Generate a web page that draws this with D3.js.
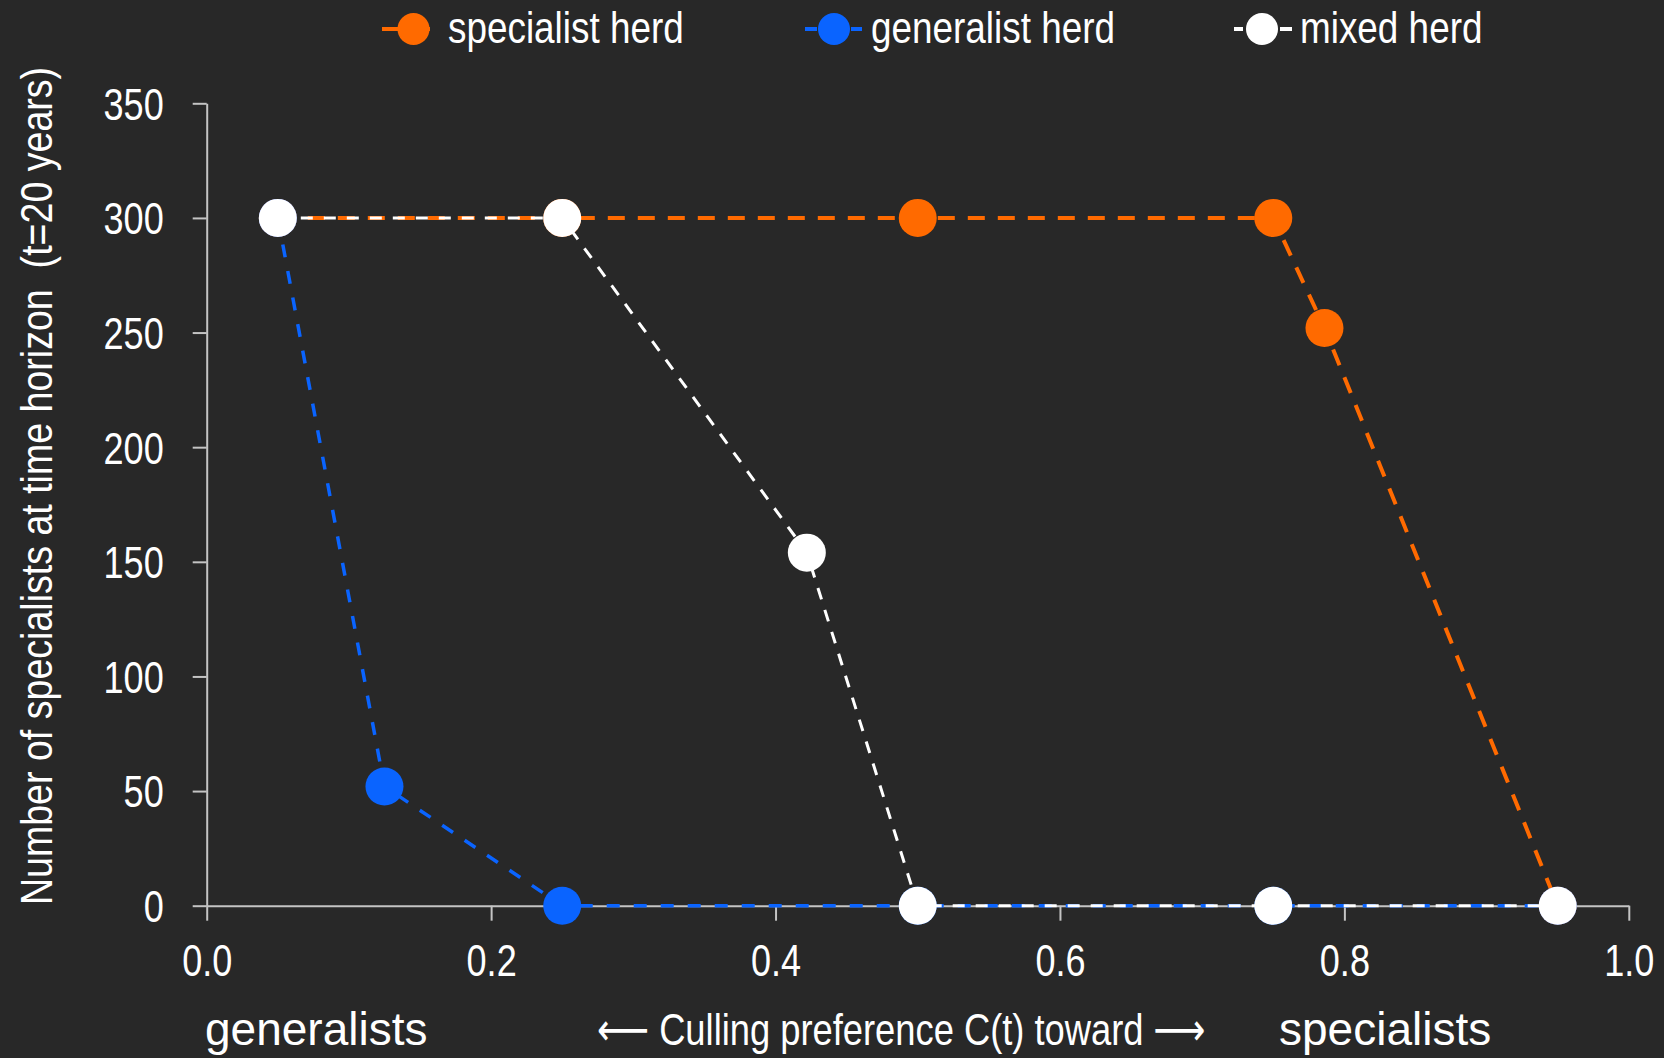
<!DOCTYPE html>
<html>
<head>
<meta charset="utf-8">
<script src="https://cdn.jsdelivr.net/npm/d3@7"></script>
<style>
  html, body { margin: 0; padding: 0; background: #282828; }
  svg { display: block; }
  text { font-family: "Liberation Sans", "DejaVu Sans", Arial, sans-serif; }
</style>
</head>
<body>
<svg id="chart" width="1664" height="1058"></svg>
<script>
// ---------------- data ----------------
const seriesNames = ["specialist herd", "generalist herd", "mixed herd"];
const specialistX = [0.05, 0.25, 0.5, 0.75, 0.786, 0.95];
const specialistY = [300, 300, 300, 300, 252, 0];
const generalistX = [0.05, 0.125, 0.25, 0.5, 0.75, 0.95];
const generalistY = [300, 52, 0, 0, 0, 0];
const mixedX = [0.05, 0.25, 0.422, 0.5, 0.75, 0.95];
const mixedY = [300, 300, 154, 0, 0, 0];
const xTicks = [0, 0.2, 0.4, 0.6, 0.8, 1.0];
const yTicks = [0, 50, 100, 150, 200, 250, 300, 350];
const yTitle = "Number of specialists at time horizon\u00a0\u00a0(t=20 years)";
const xLeftLabel = "generalists";
const xRightLabel = "specialists";
const xMidLabel = "\u27F5 Culling preference C(t) toward \u27F6";

// ---------------- layout / styles ----------------
const W = 1664, H = 1058;
const bg = "#282828";
const axisColor = "#c4c4c4";
const NARROW = 0.82; // horizontal condensing of the narrow text
const styles = [
  { color: "#ff6a00", width: 4, dash: "17,13", r: 19 },
  { color: "#0a64ff", width: 3.5, dash: "13,14", r: 19 },
  { color: "#ffffff", width: 3, dash: "12,11", r: 19 }
];

const svg = d3.select("#chart");
svg.append("rect").attr("width", W).attr("height", H).attr("fill", bg);

const x = d3.scaleLinear().domain([0, 1]).range([206.7, 1628.8]);
const y = d3.scaleLinear().domain([0, 350]).range([905.7, 103.3]);

// axes
const yAxis = svg.append("g")
  .attr("transform", `translate(${x(0)},0)`)
  .call(d3.axisLeft(y).tickValues(yTicks).tickSize(14).tickSizeOuter(0).tickPadding(29).tickFormat(d3.format("d")));
const xAxis = svg.append("g")
  .attr("transform", `translate(0,${y(0)})`)
  .call(d3.axisBottom(x).tickValues(xTicks).tickSize(15).tickSizeOuter(0).tickPadding(8).tickFormat(d3.format(".1f")));

[yAxis, xAxis].forEach(g => {
  g.selectAll(".domain").attr("stroke", axisColor).attr("stroke-width", 2);
  g.selectAll(".tick line").attr("stroke", axisColor).attr("stroke-width", 2);
  g.selectAll(".tick text")
    .attr("fill", "#ffffff")
    .attr("font-family", "Liberation Sans, Arial, sans-serif")
    .attr("font-size", 44)
    .attr("transform", `scale(${NARROW},1)`);
});
yAxis.selectAll(".tick text").attr("dy", "0.36em").attr("x", -43 / NARROW);
xAxis.selectAll(".tick text").attr("dy", "0.71em").attr("y", 39);

// series
const series = [
  { name: seriesNames[0], xs: specialistX, ys: specialistY, st: styles[0] },
  { name: seriesNames[1], xs: generalistX, ys: generalistY, st: styles[1] },
  { name: seriesNames[2], xs: mixedX, ys: mixedY, st: styles[2] }
];

const line = d3.line().x(d => x(d[0])).y(d => y(d[1]));

series.forEach(s => {
  const pts = s.xs.map((v, i) => [v, s.ys[i]]);
  const g = svg.append("g");
  g.append("path")
    .attr("d", line(pts))
    .attr("fill", "none")
    .attr("stroke", s.st.color)
    .attr("stroke-width", s.st.width)
    .attr("stroke-dasharray", s.st.dash);
  g.selectAll("circle").data(pts).join("circle")
    .attr("cx", d => x(d[0]))
    .attr("cy", d => y(d[1]))
    .attr("r", s.st.r)
    .attr("fill", s.st.color);
});

// legend
const legendY = 29;
const legendItems = [
  { cx: 413.5, segs: [[382, 430]], tx: 448 },
  { cx: 834, segs: [[805, 817], [851, 862]], tx: 871 },
  { cx: 1262, segs: [[1234, 1243], [1280, 1292]], tx: 1300 }
];
legendItems.forEach((it, i) => {
  const st = styles[i];
  const g = svg.append("g");
  it.segs.forEach(sg => {
    g.append("line").attr("x1", sg[0]).attr("x2", sg[1])
      .attr("y1", legendY).attr("y2", legendY)
      .attr("stroke", st.color).attr("stroke-width", 4);
  });
  g.append("circle").attr("cx", it.cx).attr("cy", legendY).attr("r", 16).attr("fill", st.color);
  g.append("text")
    .attr("transform", `translate(${it.tx},43) scale(${NARROW},1)`)
    .attr("fill", "#ffffff").attr("font-size", 45).text(seriesNames[i]);
});

// y title
svg.append("text")
  .attr("transform", `translate(52,486) rotate(-90) scale(0.835,1)`)
  .attr("text-anchor", "middle")
  .attr("fill", "#ffffff")
  .attr("font-size", 45)
  .text(yTitle);

// bottom labels
svg.append("text").attr("x", 205).attr("y", 1045)
  .attr("fill", "#ffffff").attr("font-size", 46).text(xLeftLabel);
svg.append("text").attr("x", 1279).attr("y", 1045)
  .attr("fill", "#ffffff").attr("font-size", 46).text(xRightLabel);
const mid = svg.append("text")
  .attr("fill", "#ffffff").attr("font-size", 45)
  .text(xMidLabel);
const midLen = mid.node().getComputedTextLength() || 700;
mid.attr("transform", `translate(597,1045) scale(${609 / midLen},1)`);
</script>
</body>
</html>
